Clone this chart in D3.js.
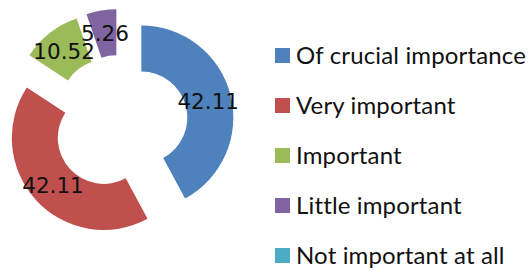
<!DOCTYPE html>
<html>
<head>
<meta charset="utf-8">
<script src="https://cdn.jsdelivr.net/npm/d3@7"></script>
<style>
  body { margin: 0; background: #fff; }
  svg { display: block; }
</style>
</head>
<body>
<div id="chart"></div>
<script>
// Categories and their shares (percent)
const categories = ["Of crucial importance", "Very important", "Important", "Little important", "Not important at all"];
const values = [42.11, 42.11, 10.52, 5.26, 0];
const labels = ["42.11", "42.11", "10.52", "5.26", ""];

const colors = ["#4f81bd", "#c0504d", "#9bbb59", "#8064a2", "#4bacc6"];

const width = 531, height = 271;
const cx = 120, cy = 123;
const outerR = 92, innerR = 46, explode = 22;

const svg = d3.select("#chart").append("svg")
    .attr("width", width)
    .attr("height", height);

const pie = d3.pie().sort(null).value(d => d);
const arc = d3.arc().innerRadius(innerR).outerRadius(outerR);
const labelArc = d3.arc().innerRadius((innerR + outerR) / 2).outerRadius((innerR + outerR) / 2);

const arcs = pie(values);

const g = svg.append("g").attr("transform", `translate(${cx},${cy})`);

// exploded slices, pushed out along their middle angle
function offset(d) {
    const a = (d.startAngle + d.endAngle) / 2;
    return [explode * Math.sin(a), -explode * Math.cos(a)];
}

g.selectAll(".slice")
    .data(arcs.filter(d => d.value > 0))
    .enter().append("path")
    .attr("class", "slice")
    .attr("d", arc)
    .attr("fill", d => colors[d.index])
    .attr("transform", d => `translate(${offset(d)})`);

g.selectAll(".val")
    .data(arcs.filter(d => d.value > 0))
    .enter().append("text")
    .attr("class", "val")
    .attr("transform", d => {
        const c = labelArc.centroid(d), o = offset(d);
        return `translate(${c[0] + o[0]},${c[1] + o[1]})`;
    })
    .attr("text-anchor", "middle")
    .attr("dy", "0.37em")
    .style("font-family", "'DejaVu Sans', sans-serif")
    .style("font-size", "21.5px")
    .attr("fill", "#111")
    .text(d => labels[d.index]);

// Legend
const legend = svg.append("g").attr("transform", "translate(275,0)");

legend.selectAll("rect")
    .data(categories)
    .enter().append("rect")
    .attr("x", 0)
    .attr("y", (_, i) => 48 + i * 50)
    .attr("width", 15)
    .attr("height", 15)
    .attr("fill", (_, i) => colors[i]);

legend.selectAll("text")
    .data(categories)
    .enter().append("text")
    .attr("x", 21)
    .attr("y", (_, i) => 55.5 + i * 50)
    .attr("dy", "0.36em")
    .style("font-family", "Lato, sans-serif")
    .style("font-size", "24px")
    .style("letter-spacing", "0.15px")
    .attr("fill", "#111")
    .text(d => d);
</script>
</body>
</html>
